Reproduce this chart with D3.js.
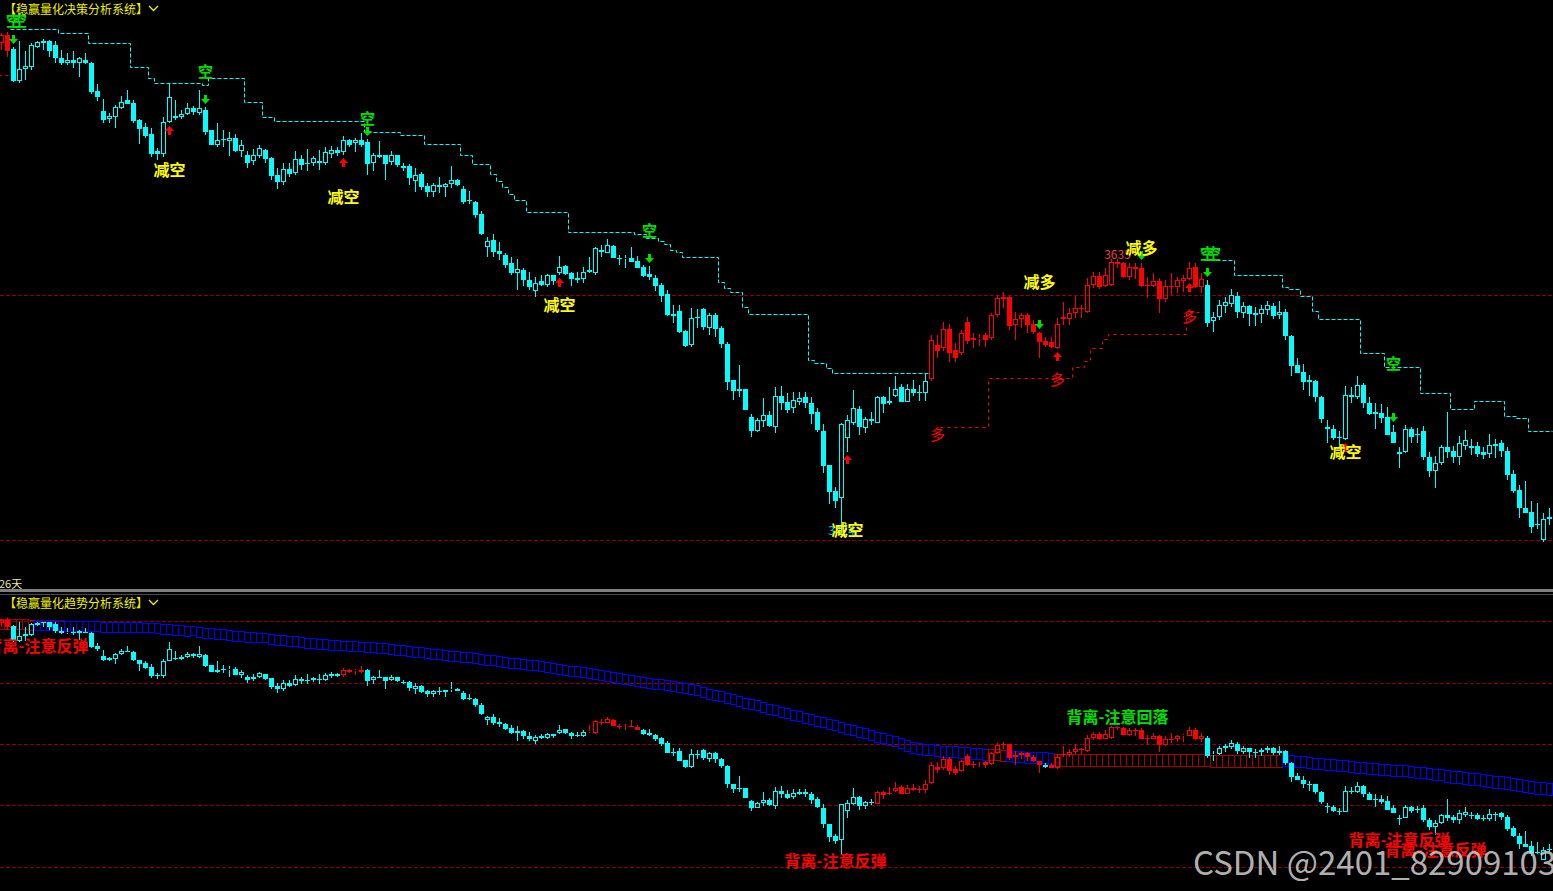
<!DOCTYPE html>
<html>
<head>
<meta charset="utf-8">
<script src="https://cdn.jsdelivr.net/npm/d3@7/dist/d3.min.js"></script>
<style>
  html, body { margin: 0; padding: 0; background: #000; overflow: hidden; }
  svg { display: block; }
  text { font-family: "Noto Sans CJK SC", "DejaVu Sans", sans-serif; }
</style>
</head>
<body>
<svg id="chart"></svg>
<script>
// daily candles
const OPEN = [3857,3865,3851,3819,3831,3833,3853,3859,3859,3855,
  3842,3837,3840,3837,3840,3837,3809,3789,3781,3783,
  3792,3800,3797,3780,3773,3766,3749,3746,3778,3784,
  3783,3786,3792,3787,3790,3770,3755,3761,3759,3762,
  3749,3745,3739,3744,3750,3742,3725,3718,3731,3727,
  3741,3737,3737,3739,3737,3746,3750,3748,3760,3757,
  3760,3758,3737,3745,3745,3738,3745,3734,3734,3719,
  3726,3714,3708,3715,3713,3716,3720,3711,3700,3698,
  3686,3653,3660,3649,3645,3637,3627,3630,3620,3609,
  3619,3615,3625,3627,3634,3627,3622,3621,3628,3627,
  3650,3647,3654,3642,3641,3642,3639,3633,3626,3622,
  3615,3606,3586,3589,3569,3555,3583,3591,3572,3585,
  3572,3556,3520,3511,3511,3483,3469,3479,3485,3473,
  3504,3498,3492,3498,3503,3497,3488,3469,3435,3409,
  3402,3462,3477,3491,3472,3481,3477,3503,3499,3504,
  3513,3498,3511,3508,3507,3521,3555,3552,3571,3550,
  3547,3578,3562,3561,3565,3562,3585,3603,3603,3575,
  3581,3585,3576,3567,3559,3558,3552,3583,3581,3587,
  3592,3588,3615,3624,3614,3615,3638,3637,3623,3633,
  3632,3615,3614,3619,3601,3614,3613,3619,3621,3633,
  3613,3615,3579,3583,3594,3596,3604,3587,3594,3587,
  3586,3590,3594,3585,3588,3564,3535,3528,3520,3519,
  3503,3473,3471,3463,3461,3505,3503,3515,3497,3488,
  3487,3483,3468,3448,3448,3471,3466,3469,3443,3429,
  3437,3453,3449,3443,3454,3454,3454,3448,3446,3456,
  3457,3449,3426,3410,3392,3388,3376,3360,3383];

const CLOSE = [3865,3849,3819,3831,3834,3855,3858,3857,3849,3842,
  3837,3840,3837,3842,3837,3808,3803,3780,3784,3793,
  3798,3796,3779,3771,3764,3746,3746,3778,3803,3782,
  3786,3792,3788,3792,3768,3755,3760,3760,3762,3749,
  3755,3737,3745,3752,3741,3724,3718,3731,3726,3741,
  3735,3736,3742,3737,3748,3750,3747,3760,3755,3760,
  3755,3736,3745,3743,3736,3745,3735,3732,3722,3725,
  3713,3708,3715,3713,3716,3720,3715,3698,3699,3685,
  3666,3659,3648,3646,3635,3627,3631,3620,3613,3617,
  3615,3625,3619,3633,3626,3621,3620,3628,3630,3652,
  3648,3655,3642,3641,3642,3638,3632,3624,3623,3614,
  3604,3585,3584,3568,3554,3582,3582,3573,3585,3571,
  3556,3518,3509,3509,3490,3469,3480,3485,3474,3504,
  3497,3490,3500,3502,3497,3486,3470,3434,3408,3399,
  3476,3480,3492,3473,3481,3479,3503,3496,3497,3511,
  3498,3511,3507,3507,3519,3560,3549,3571,3547,3542,
  3567,3559,3560,3562,3560,3585,3602,3601,3574,3581,
  3585,3575,3568,3558,3555,3553,3576,3581,3587,3592,
  3591,3615,3624,3613,3625,3638,3636,3623,3633,3631,
  3614,3614,3619,3601,3614,3613,3620,3622,3632,3613,
  3621,3577,3583,3595,3598,3605,3588,3594,3586,3585,
  3591,3595,3584,3588,3564,3534,3527,3518,3518,3503,
  3481,3471,3462,3462,3505,3503,3515,3497,3486,3486,
  3482,3465,3457,3446,3471,3463,3465,3443,3429,3437,
  3453,3448,3443,3457,3460,3452,3446,3445,3455,3454,
  3449,3425,3409,3392,3387,3373,3375,3381,3381];

const HIGH = [3867,3868,3853,3859,3849,3857,3859,3861,3860,3859,
  3850,3847,3849,3843,3847,3838,3816,3801,3787,3795,
  3804,3810,3800,3781,3777,3772,3752,3783,3817,3800,
  3790,3797,3794,3810,3793,3770,3777,3770,3768,3766,
  3760,3749,3751,3755,3751,3743,3732,3737,3737,3749,
  3745,3751,3744,3750,3753,3754,3753,3764,3761,3762,
  3767,3761,3747,3759,3745,3749,3745,3737,3736,3732,
  3728,3717,3717,3723,3717,3734,3721,3714,3709,3699,
  3689,3663,3666,3658,3647,3643,3641,3632,3628,3623,
  3625,3626,3625,3644,3635,3628,3628,3633,3643,3653,
  3655,3661,3655,3645,3645,3653,3644,3635,3634,3625,
  3617,3610,3595,3595,3570,3592,3591,3592,3587,3587,
  3574,3558,3520,3535,3511,3486,3482,3502,3489,3513,
  3514,3507,3508,3508,3508,3503,3492,3476,3435,3413,
  3477,3485,3510,3494,3483,3488,3504,3504,3513,3524,
  3516,3516,3520,3515,3527,3565,3565,3578,3576,3557,
  3570,3583,3567,3566,3567,3587,3605,3608,3604,3588,
  3587,3587,3580,3568,3563,3563,3582,3598,3592,3604,
  3595,3622,3628,3628,3632,3641,3641,3638,3637,3637,
  3637,3623,3627,3622,3620,3627,3623,3625,3638,3637,
  3627,3620,3588,3600,3603,3611,3608,3598,3595,3593,
  3595,3599,3597,3599,3591,3565,3542,3536,3525,3520,
  3504,3480,3475,3469,3514,3513,3524,3517,3503,3497,
  3496,3493,3475,3453,3475,3473,3472,3474,3448,3444,
  3455,3488,3454,3464,3470,3461,3458,3453,3466,3461,
  3460,3453,3430,3415,3419,3399,3397,3387,3392];

const LOW = [3850,3843,3818,3817,3820,3830,3852,3850,3843,3837,
  3835,3835,3832,3823,3836,3806,3799,3777,3777,3772,
  3791,3796,3777,3756,3762,3743,3740,3743,3777,3780,
  3781,3785,3785,3785,3765,3755,3753,3753,3744,3748,
  3743,3732,3735,3742,3737,3720,3711,3715,3723,3725,
  3730,3729,3734,3730,3735,3742,3744,3745,3753,3748,
  3753,3725,3729,3742,3720,3735,3733,3729,3715,3708,
  3710,3703,3703,3707,3703,3712,3714,3696,3696,3682,
  3665,3643,3643,3640,3632,3625,3610,3614,3610,3603,
  3614,3613,3615,3625,3625,3614,3617,3617,3627,3625,
  3643,3647,3642,3635,3632,3638,3632,3623,3620,3609,
  3598,3584,3577,3567,3553,3553,3572,3570,3565,3563,
  3552,3510,3500,3503,3490,3463,3468,3473,3473,3467,
  3490,3487,3487,3495,3492,3476,3468,3427,3396,3392,
  3370,3448,3475,3465,3467,3475,3477,3487,3495,3503,
  3498,3498,3504,3499,3499,3519,3542,3549,3538,3538,
  3545,3556,3552,3554,3553,3560,3583,3592,3570,3560,
  3572,3567,3566,3542,3553,3552,3551,3575,3575,3582,
  3582,3587,3612,3611,3613,3614,3632,3622,3620,3621,
  3613,3602,3613,3587,3598,3605,3607,3608,3620,3612,
  3607,3573,3568,3580,3587,3593,3582,3582,3574,3574,
  3577,3585,3581,3581,3560,3524,3527,3510,3504,3498,
  3477,3457,3460,3453,3460,3497,3501,3492,3485,3471,
  3477,3465,3457,3432,3447,3457,3457,3440,3423,3412,
  3435,3442,3437,3435,3450,3445,3443,3441,3442,3442,
  3443,3420,3407,3382,3387,3367,3371,3358,3375];

// candle colour regimes (index ranges drawn red, the rest cyan)
const TOP_RED = [[0, 1], [155, 200]];
const BOTTOM_RED = [[0, 1], [57, 60], [98, 106], [146, 173], [175, 200]];

// stepped stop lines: [first candle, last candle, level]
const RESIST = [[2,9,3871],[10,14,3867],[15,21,3857],[22,24,3833],[25,25,3822],[26,33,3817],
  [34,34,3815],[35,40,3822],[41,43,3798],[44,45,3783],[46,60,3779],[61,66,3768],[67,70,3765],
  [71,76,3756],[77,78,3745],[79,81,3736],[82,82,3726],[83,83,3719],[84,84,3713],[85,85,3706],
  [86,87,3700],[88,94,3688],[95,105,3668],[106,107,3666],[108,109,3662],[110,110,3659],
  [111,111,3656],[112,112,3650],[113,113,3648],[114,119,3643],[120,120,3618],[121,121,3612],
  [122,123,3608],[124,124,3593],[125,134,3586],[135,135,3540],[136,137,3537],[138,138,3532],
  [139,154,3527],
  [201,205,3640],[206,213,3625],[214,214,3613],[215,216,3611],[217,218,3604],[219,219,3589],
  [220,226,3581],[227,230,3547],[231,236,3533],[237,241,3507],[242,245,3491],[246,250,3499],
  [251,252,3484],[253,254,3482],[255,258,3469]];
const SUPPORT = [[0,1,3825],[157,164,3473],[165,178,3522],[179,180,3533],[181,181,3539],
  [182,183,3552],[184,184,3561],[185,197,3566],[198,200,3588]];

// signals
const SELL_ARROWS = [2, 34, 61, 108, 173, 190, 201, 232];
const BUY_ARROWS = [28, 57, 93, 141, 176, 198, 224];
const KONG_LABELS = [[2, 3881], [3, 3881], [34, 3830], [61, 3783], [108, 3671], [201, 3648], [202, 3648], [232, 3538]];
const JIANKONG_LABELS = [[28, 3731], [57, 3704], [93, 3596], [141, 3371], [224, 3449]];
const JIANDUO_LABELS = [[173, 3619], [190, 3653]];
const DUO_LABELS = [[156, 3467], [176, 3522], [198, 3585]];
const PRICE_TAGS = [[186, 3647, "3635", "#e84040"], [140, 3371, "3424", "#00c8ff"]];
const DIVERGE_LABELS = [[6, 3812, "背离-注意反弹", "red"], [139, 3359, "背离-注意反弹", "red"],
  [233, 3403, "背离-注意反弹", "red"], [239, 3382, "背离-注意反弹", "red"],
  [186, 3662, "背离-注意回落", "green"]];

// long trend band in the lower pane
const RIBBON_TOP = [3866,3866,3866,3866,3866,3865,3865,3865,3864,3864,3864,3863,3863,3863,3862,
  3862,3862,3861,3861,3861,3860,3860,3859,3859,3858,
  3858,3857,3856,3855,3854,3853,3852,3851,
  3849,3848,3847,3846,3845,3843,3842,3841,
  3839,3838,3837,3836,3835,3833,3832,3831,3830,
  3828,3827,3826,3825,3824,3823,3822,3821,3820,3819,3818,3817,3817,
  3816,3815,3813,3812,3811,3810,3808,3807,3806,3804,3803,3802,3800,
  3799,3797,3796,3794,3793,3791,3790,3788,3787,3785,3784,3783,3781,
  3780,3778,3776,3774,3772,3770,3768,3767,3765,3763,3761,3759,3757,
  3755,3753,3751,3749,3747,3745,3743,3741,3739,3737,3735,3733,3731,3729,
  3727,3724,3720,3717,3714,3711,3708,3704,3701,3698,3695,3691,3688,
  3685,3682,3678,3675,3672,3669,3666,3662,3659,3656,3653,3649,3646,
  3643,3640,3636,3633,3629,3626,3622,3619,3615,3612,3608,
  3605,3604,3603,3602,3600,3599,3598,3597,3596,3595,3594,3593,3593,
  3592,3591,3590,3589,3588,3587,3587,3586,3586,3585,
  3583,3583,3583,3582,3582,3582,3582,3582,3582,3582,
  3582,3582,3582,3582,3582,3582,3582,3582,3582,3582,
  3582,3582,3582,3582,3582,3582,3581,3581,3581,3581,
  3581,3581,3581,3581,3581,3581,3581,3581,
  3580,3579,3578,3577,3575,3574,3573,3572,3571,3570,3569,3567,
  3566,3565,3564,3563,3562,3561,3560,3559,3558,3556,3555,
  3554,3552,3551,3550,3548,3547,3546,3544,3543,3542,3540,
  3538,3536,3535,3533,3531,3529,3528,3526,3524,3523,3521];
const RIBBON_BOT = [3846,3846,3846,3846,3846,3845,3845,3845,3844,3844,3844,3843,3843,3843,3842,
  3842,3842,3841,3841,3841,3840,3840,3839,3839,3838,
  3838,3837,3836,3835,3834,3833,3832,3831,
  3829,3828,3827,3826,3825,3823,3822,3821,
  3819,3818,3817,3816,3815,3813,3812,3811,3810,
  3808,3807,3806,3805,3804,3803,3802,3801,3800,3799,3798,3796,3796,
  3795,3794,3792,3791,3790,3789,3787,3786,3785,3783,3782,3781,3779,
  3778,3776,3775,3773,3772,3770,3769,3767,3766,3764,3763,3762,3760,
  3759,3757,3755,3753,3751,3749,3747,3746,3744,3742,3740,3738,3736,
  3734,3732,3730,3728,3726,3724,3722,3720,3718,3716,3714,3712,3710,3708,
  3706,3703,3699,3696,3693,3690,3687,3683,3680,3677,3674,3670,3667,
  3664,3661,3657,3654,3651,3648,3645,3641,3638,3635,3632,3628,3625,
  3622,3619,3615,3612,3608,3605,3601,3598,3594,3589,3585,
  3582,3581,3580,3579,3577,3576,3575,3574,3573,3572,3571,3570,3570,
  3569,3568,3567,3566,3565,3564,3564,3563,3563,3562,
  3558,3558,3558,3557,3557,3557,3557,3557,3557,3557,
  3557,3557,3557,3557,3557,3557,3557,3557,3557,3557,
  3557,3557,3557,3557,3557,3557,3556,3556,3556,3556,
  3556,3556,3556,3556,3556,3556,3556,3556,
  3557,3556,3555,3554,3552,3551,3550,3549,3548,3547,3546,3544,
  3543,3542,3541,3540,3539,3538,3537,3536,3535,3533,3532,
  3531,3529,3528,3527,3523,3522,3521,3519,3518,3517,3515,
  3513,3511,3510,3508,3506,3504,3503,3501,3499,3498,3496];
const RIBBON_RED = [[0, 5], [165, 167], [176, 213]];

const TOP_GRID = [3605, 3360];
const BOTTOM_GRID = [3862, 3732, 3603, 3474, 3344];

const W = 1553, H = 891, N = OPEN.length;
const CYAN = "#00ffff", RED = "#ff0000", YELLOW = "#ffff00", GREEN = "#00e000",
  BLUE = "#0000ff", DARK_RED = "#a80000", GRID = "#8c0000";

const svg = d3.select("#chart").attr("width", W).attr("height", H);
svg.append("rect").attr("width", W).attr("height", H).attr("fill", "#000");

const defs = svg.append("defs");
defs.append("clipPath").attr("id", "clipTop")
  .append("rect").attr("width", W).attr("height", 588);
defs.append("clipPath").attr("id", "clipBot")
  .append("rect").attr("y", 596).attr("width", W).attr("height", H - 596);

const x = d3.scaleBand().domain(d3.range(N)).range([-1.5, -1.5 + 6 * N]);
const cx = (i) => x(i) + x.bandwidth() / 2;
const yTop = d3.scaleLinear().domain([3400, 3900]).range([500, 0]);
const yBot = d3.scaleLinear().domain([3400, 3900]).range([840.5, 603]);
const inRanges = (ranges, i) => ranges.some(([a, b]) => i >= a && i <= b);
const crisp = (v) => Math.round(v) + 0.5;

function drawGrid(g, y, levels) {
  g.selectAll("line.grid")
    .data(levels)
    .join("line")
    .attr("class", "grid")
    .attr("x1", 0)
    .attr("x2", W)
    .attr("y1", (d) => crisp(y(d)))
    .attr("y2", (d) => crisp(y(d)))
    .attr("stroke", GRID)
    .attr("stroke-dasharray", "4,2");
}

function drawCandles(g, y, redRanges) {
  const idx = d3.range(N);
  const col = (i) => (inRanges(redRanges, i) ? RED : CYAN);
  const up = (i) => CLOSE[i] > OPEN[i];
  const bTop = (i) => Math.round(y(Math.max(OPEN[i], CLOSE[i])));
  const bBot = (i) => Math.round(y(Math.min(OPEN[i], CLOSE[i])));

  g.selectAll("path.wick")
    .data(idx)
    .join("path")
    .attr("class", "wick")
    .attr("fill", "none")
    .attr("stroke", col)
    .attr("d", (i) => {
      const xx = cx(i);
      const hi = Math.min(Math.round(y(HIGH[i])), bTop(i));
      const lo = Math.max(Math.round(y(LOW[i])), bBot(i));
      if (up(i)) return `M${xx},${hi}V${bTop(i)}M${xx},${bBot(i)}V${lo}`;
      return `M${xx},${hi}V${lo}`;
    });

  g.selectAll("rect.body")
    .data(idx)
    .join("rect")
    .attr("class", "body")
    .attr("x", (i) => (up(i) ? x(i) + 1 : x(i) + 0.5))
    .attr("width", (i) => (up(i) ? 4 : 5))
    .attr("y", (i) => (up(i) ? bTop(i) + 0.5 : bTop(i)))
    .attr("height", (i) => (up(i) ? Math.max(bBot(i) - bTop(i) - 1, 0) : Math.max(bBot(i) - bTop(i), 1)))
    .attr("fill", (i) => (up(i) ? "none" : col(i)))
    .attr("stroke", (i) => (up(i) ? col(i) : "none"));
}

function drawSteps(g, segs, color, dash) {
  const p = d3.path();
  segs.forEach(([a, b, v], k) => {
    const yy = crisp(yTop(v));
    if (k > 0 && segs[k - 1][1] === a - 1) p.lineTo(x(a), yy);
    else p.moveTo(x(a), yy);
    p.lineTo(x(b) + x.bandwidth(), yy);
  });
  g.append("path")
    .attr("d", p.toString())
    .attr("fill", "none")
    .attr("stroke", color)
    .attr("stroke-dasharray", dash);
}

function drawLabels(g, y, rows, text, color, size, weight) {
  g.selectAll(null)
    .data(rows)
    .join("text")
    .attr("x", (d) => cx(d[0]))
    .attr("y", (d) => y(d[1]))
    .attr("text-anchor", "middle")
    .attr("dominant-baseline", "central")
    .attr("fill", color)
    .attr("font-size", size)
    .attr("font-weight", weight)
    .text(text);
}

// ---------- upper pane ----------
const upper = svg.append("g").attr("clip-path", "url(#clipTop)");
drawGrid(upper, yTop, TOP_GRID);
drawSteps(upper, RESIST, CYAN, "4,2");
drawSteps(upper, SUPPORT, RED, "3,4");
drawCandles(upper.append("g"), yTop, TOP_RED);

upper.selectAll("path.sell")
  .data(SELL_ARROWS)
  .join("path")
  .attr("class", "sell")
  .attr("fill", GREEN)
  .attr("d", (i) => {
    const c = cx(i), t = Math.round(yTop(HIGH[i])) - 12;
    return `M${c - 1.5},${t}h3v4h3l-4.5,5l-4.5,-5h3z`;
  });
upper.selectAll("path.buy")
  .data(BUY_ARROWS)
  .join("path")
  .attr("class", "buy")
  .attr("fill", RED)
  .attr("d", (i) => {
    const c = cx(i), b = Math.round(yTop(LOW[i])) + 3;
    return `M${c},${b}l4.5,5h-3v4h-3v-4h-3z`;
  });

upper.selectAll("text.tag")
  .data(PRICE_TAGS)
  .join("text")
  .attr("class", "tag")
  .attr("x", (d) => cx(d[0]))
  .attr("y", (d) => yTop(d[1]))
  .attr("text-anchor", "middle")
  .attr("dominant-baseline", "central")
  .attr("font-family", "DejaVu Sans")
  .attr("font-size", 12)
  .attr("fill", (d) => d[3])
  .text((d) => d[2]);

drawLabels(upper, yTop, KONG_LABELS, "空", GREEN, 15, "bold");
drawLabels(upper, yTop, JIANKONG_LABELS, "减空", YELLOW, 16, "bold");
drawLabels(upper, yTop, JIANDUO_LABELS, "减多", YELLOW, 16, "bold");
drawLabels(upper, yTop, DUO_LABELS, "多", RED, 15, "normal");

// ---------- lower pane ----------
const lower = svg.append("g").attr("clip-path", "url(#clipBot)");
drawGrid(lower, yBot, BOTTOM_GRID);
lower.selectAll("rect.band")
  .data(d3.range(N))
  .join("rect")
  .attr("class", "band")
  .attr("x", (i) => x(i))
  .attr("width", x.bandwidth())
  .attr("y", (i) => crisp(yBot(RIBBON_TOP[i])))
  .attr("height", (i) => Math.round(yBot(RIBBON_BOT[i]) - yBot(RIBBON_TOP[i])))
  .attr("fill", "none")
  .attr("stroke", (i) => (inRanges(RIBBON_RED, i) ? DARK_RED : BLUE));
drawCandles(lower.append("g"), yBot, BOTTOM_RED);

lower.selectAll("text.div")
  .data(DIVERGE_LABELS)
  .join("text")
  .attr("class", "div")
  .attr("x", (d) => cx(d[0]))
  .attr("y", (d) => yBot(d[1]))
  .attr("text-anchor", "middle")
  .attr("dominant-baseline", "central")
  .attr("font-size", 16)
  .attr("font-weight", "bold")
  .attr("fill", (d) => (d[3] === "red" ? RED : GREEN))
  .text((d) => d[2]);

// ---------- frame, titles ----------
svg.append("rect").attr("x", 0).attr("y", 589).attr("width", W).attr("height", 3).attr("fill", "#808080");
svg.append("line").attr("x1", 0).attr("x2", W).attr("y1", 594.5).attr("y2", 594.5).attr("stroke", "#4a4a4a");

const titles = [["【稳赢量化决策分析系统】", 8], ["【稳赢量化趋势分析系统】", 602]];
titles.forEach(([t, y]) => {
  svg.append("text")
    .attr("x", 4).attr("y", y)
    .attr("dominant-baseline", "central")
    .attr("font-size", 12)
    .attr("fill", "#f0f000")
    .text(t);
  svg.append("path")
    .attr("d", `M149,${y - 2}L153.5,${y + 2.5}L158,${y - 2}`)
    .attr("fill", "none")
    .attr("stroke", "#f0f000")
    .attr("stroke-width", 1.3);
});
svg.append("text")
  .attr("x", -1).attr("y", 583)
  .attr("dominant-baseline", "central")
  .attr("font-size", 11)
  .attr("fill", "#e8e8a8")
  .text("26天");

svg.append("text")
  .attr("x", 1193).attr("y", 875)
  .attr("font-family", "Liberation Sans, Arial, sans-serif")
  .attr("font-size", 33)
  .attr("fill", "#c8c8c8")
  .attr("fill-opacity", 0.9)
  .text("CSDN @2401_82909103");
</script>
</body>
</html>
